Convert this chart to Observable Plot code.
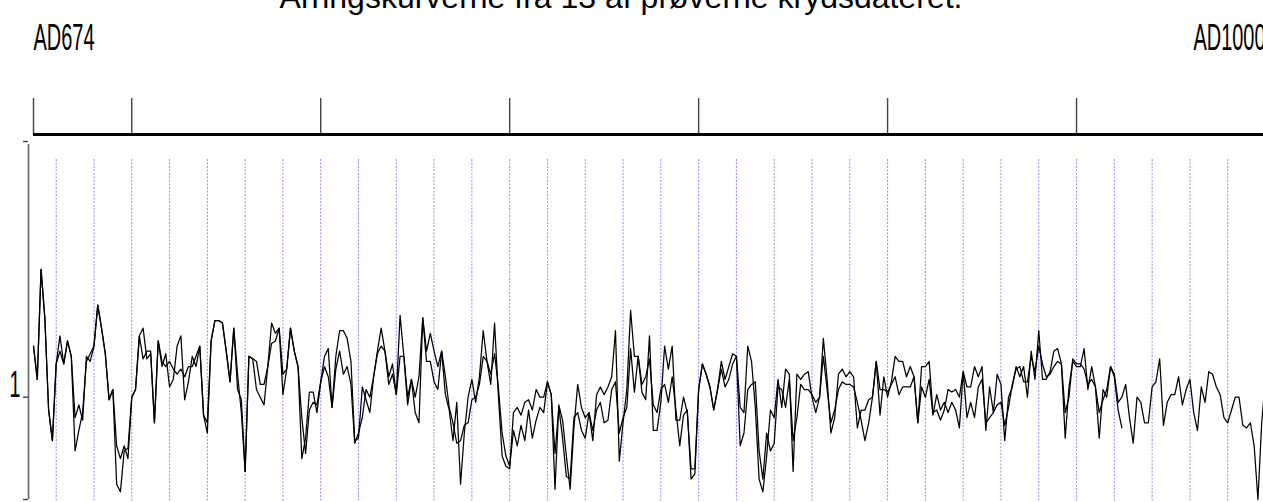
<!DOCTYPE html>
<html><head><meta charset="utf-8">
<script src="https://cdn.jsdelivr.net/npm/d3@7"></script>
<script src="https://cdn.jsdelivr.net/npm/@observablehq/plot@0.6"></script>
<style>html,body{margin:0;padding:0;background:#fff;overflow:hidden}</style>
</head><body><div id="chart"></div>
<script>
const title = "Årringskurverne fra 13 af prøverne krydsdateret.";
const firstYear = 674;
const lastYear = 1000;
const axisTicks = [674, 700, 750, 800, 850, 900, 950, 1000];
const yTicks = [0.6, 1, 2];
const yTickLabels = ["", "1", ""];

// Series A: AD674–AD1000 (one value per year)
const seriesA = [
  1.20,1.07,1.50,1.31,0.95,0.83,
  1.13,1.24,1.13,1.22,1.16,0.92,0.97,0.91,1.16,1.14,
  1.20,1.36,1.27,1.17,0.99,1.03,0.81,0.76,0.81,0.76,
  1.00,1.03,1.24,1.27,1.15,1.17,0.90,1.22,1.12,1.17,
  1.04,1.07,1.20,1.24,0.99,1.06,1.16,1.12,1.20,0.93,
  0.86,1.22,1.30,1.30,1.29,1.18,1.06,1.27,1.09,0.94,
  0.71,1.16,1.15,1.03,1.00,0.97,1.12,1.29,1.25,1.27,
  1.01,1.11,1.27,1.18,1.12,0.76,0.84,1.02,1.02,0.94,
  1.06,1.16,1.19,0.96,1.16,1.26,1.26,1.23,1.14,0.83,
  0.84,1.04,0.99,0.94,1.08,1.18,1.27,1.18,1.08,1.13,
  1.01,1.32,1.16,0.97,1.07,1.00,1.08,1.31,1.18,1.25,
  1.18,1.12,1.18,1.01,0.95,0.83,0.98,0.66,0.86,1.00,
  1.07,0.98,1.08,1.26,1.14,1.05,1.29,1.01,0.77,0.73,
  0.72,0.94,0.96,0.93,0.98,0.99,0.95,1.03,1.00,1.00,
  1.06,1.01,0.64,0.97,0.91,0.77,0.64,0.88,1.05,0.96,
  0.92,0.94,0.83,1.01,1.04,1.01,1.04,1.08,1.26,0.75,
  0.90,1.03,1.34,1.16,1.16,1.02,0.99,1.24,0.87,0.87,
  0.98,1.20,1.11,1.20,0.91,0.91,1.00,0.94,0.72,0.72,
  1.03,1.13,1.09,1.04,0.95,1.03,1.14,1.07,1.12,1.17,
  1.16,0.96,0.94,1.20,1.14,0.96,0.68,0.63,0.77,0.95,
  0.92,1.07,0.96,1.11,1.09,0.71,1.09,1.07,1.09,1.10,
  1.00,0.94,1.00,1.23,1.07,0.86,0.92,1.09,1.11,1.08,
  1.10,1.08,0.88,0.95,0.95,0.99,1.00,1.14,0.93,1.08,
  1.00,1.06,1.16,1.14,1.14,1.08,1.12,1.08,0.90,1.12,
  1.12,1.14,0.94,0.95,0.91,0.95,1.03,1.02,1.03,1.00,
  1.10,1.04,1.04,1.12,1.08,1.12,0.87,1.04,0.94,1.09,
  1.05,0.83,1.00,1.04,1.12,1.08,1.12,1.00,1.18,1.07,
  1.26,1.07,1.07,1.10,1.18,1.19,1.13,0.84,1.04,1.14,
  1.12,1.12,1.19,1.03,1.12,1.04,0.84,1.03,1.00,1.12,
  1.09,0.98,1.00,1.05,0.92,0.82,1.00,0.98,0.90,0.90,
  1.04,1.06,1.15,0.89,0.98,1.01,1.01,1.08,0.97,1.03,
  1.07,0.94,0.87,1.04,0.98,1.10,1.09,1.04,1.01,0.92,
  0.90,0.95,1.00,1.00,0.89,0.88,0.90,0.81,0.60,0.90,
  1.08
];

// Series B: AD674–AD962
const seriesB = [
  1.20,1.07,1.50,1.31,0.95,0.83,
  1.13,1.18,1.13,1.22,1.16,0.79,0.87,0.94,1.14,1.17,
  1.20,1.36,1.27,1.17,0.99,1.03,0.66,0.63,0.79,0.80,
  1.00,1.03,1.24,1.15,1.18,1.18,0.90,1.22,1.14,1.12,
  1.14,1.11,1.09,1.11,1.08,1.12,1.12,1.16,1.20,0.93,
  0.90,1.22,1.30,1.30,1.29,1.18,1.06,1.27,1.03,0.99,
  0.71,1.16,1.15,1.14,1.05,1.05,1.12,1.21,1.22,1.27,
  1.09,1.11,1.27,1.18,1.12,0.92,0.78,0.95,0.98,0.97,
  1.06,1.12,1.08,0.96,1.11,1.18,1.09,1.12,1.05,0.82,
  0.86,0.92,1.03,1.00,1.08,1.17,1.20,1.18,1.05,1.09,
  1.01,1.16,1.16,1.00,1.07,0.94,0.90,1.31,1.14,1.14,
  1.06,1.03,1.18,1.08,0.96,0.90,0.82,0.83,0.89,0.90,
  0.99,1.00,1.05,1.16,1.14,1.09,1.17,1.04,0.86,0.77,
  0.73,0.87,0.81,0.89,0.83,0.95,0.84,0.91,0.96,0.94,
  1.06,1.01,0.78,0.96,0.84,0.69,0.68,0.92,0.94,0.87,
  0.84,0.94,0.87,0.95,0.98,0.90,0.91,1.03,1.06,0.86,
  0.92,0.96,1.19,1.02,1.16,1.05,1.08,1.15,0.97,0.94,
  1.03,1.05,0.98,1.08,0.95,0.81,0.93,0.95,0.68,0.70,
  1.03,1.13,1.09,1.04,0.95,1.03,1.11,1.04,1.07,1.13,
  1.16,0.81,0.86,1.03,1.05,1.06,0.79,0.68,0.86,0.79,
  0.82,1.04,1.03,0.96,1.07,0.83,0.92,1.05,1.03,1.03,
  1.01,0.98,1.00,1.16,1.03,0.90,0.95,1.03,1.06,1.05,
  1.05,1.04,0.98,0.91,0.83,0.90,1.00,1.14,1.03,1.03,
  1.02,1.05,1.08,1.01,1.04,1.04,1.04,1.08,0.90,1.04,
  1.00,1.07,0.93,1.01,0.95,0.98,0.94,0.98,0.95,0.88,
  1.10,0.92,0.98,0.92,1.04,1.07,0.90,0.92,0.94,0.97,
  0.98,0.89,0.96,1.05,1.11,1.12,1.06,1.06,1.16,1.10,
  1.20,1.13,1.08,1.09,1.12,1.14,1.13,0.94,1.00,1.15,
  1.13,1.13,1.11,1.05,1.07,1.04,0.94,0.99,1.03,1.12,
  1.08,0.95,0.88
];

const rowsA = seriesA.map((v, i) => ({year: firstYear + i, v}));
const rowsB = seriesB.map((v, i) => ({year: firstYear + i, v}));
const gridYears = d3.range(680, lastYear, 10);

const chart = Plot.plot({
  width: 1263,
  height: 502,
  marginTop: 134,
  marginLeft: 28,
  marginRight: 0,
  marginBottom: 0,
  style: {fontFamily: "'Liberation Sans', Arial, sans-serif", background: "#fff", overflow: "hidden"},
  x: {domain: [firstYear, lastYear], range: [33, 1265], label: null},
  y: {domain: [yTicks[0], yTicks[2]], range: [499, 141], label: null},
  marks: [
    Plot.ruleX(gridYears, {insetTop: 25, stroke: "#8c8cff", strokeWidth: 1, strokeDasharray: "2,1.5"}),
    Plot.axisX({anchor: "top", ticks: axisTicks, tickSize: 37, tickFormat: () => "", label: null, stroke: "#444", strokeWidth: 1.4}),
    Plot.ruleY([yTicks[2]], {x1: firstYear, x2: lastYear, dy: -7, stroke: "#000", strokeWidth: 2.8}),
    Plot.ruleX([firstYear], {y1: yTicks[0], y2: yTicks[2], dx: -5, insetBottom: -3, stroke: "#666", strokeWidth: 1.6}),
    Plot.axisY({anchor: "left", ticks: yTicks, tickSize: 5, tickPadding: 3, label: null, stroke: "#444", strokeWidth: 1.4,
      tickFormat: d => yTickLabels[yTicks.indexOf(d)], fontSize: 36, lineAnchor: "bottom", fill: "#000"}),
    Plot.lineY(rowsB, {x: "year", y: "v", stroke: "#000", strokeWidth: 1.25}),
    Plot.lineY(rowsA, {x: "year", y: "v", stroke: "#000", strokeWidth: 1.25}),
    Plot.text([firstYear], {x: d => d, text: d => "AD" + d, frameAnchor: "top", dy: -85, textAnchor: "start", lineAnchor: "bottom", fontSize: 36, fill: "#000"}),
    Plot.text([lastYear], {x: d => d, text: d => "AD" + d, frameAnchor: "top", dy: -85, textAnchor: "end", lineAnchor: "bottom", fontSize: 36, fill: "#000"}),
    Plot.text([title], {frameAnchor: "top", dx: -25, dy: -127, lineAnchor: "bottom", fontSize: 32, fill: "#000"})
  ]
});
document.getElementById("chart").appendChild(chart);

// condense the narrow labels
d3.select(chart).selectAll("text").each(function() {
  const t = this.textContent;
  if (t === "AD" + firstYear) { this.setAttribute("textLength", 61); this.setAttribute("lengthAdjust", "spacingAndGlyphs"); }
  else if (t === "AD" + lastYear) { this.setAttribute("textLength", 72); this.setAttribute("lengthAdjust", "spacingAndGlyphs"); }
  else if (t === "1") { this.setAttribute("textLength", 11); this.setAttribute("lengthAdjust", "spacingAndGlyphs"); }
});
</script></body></html>
